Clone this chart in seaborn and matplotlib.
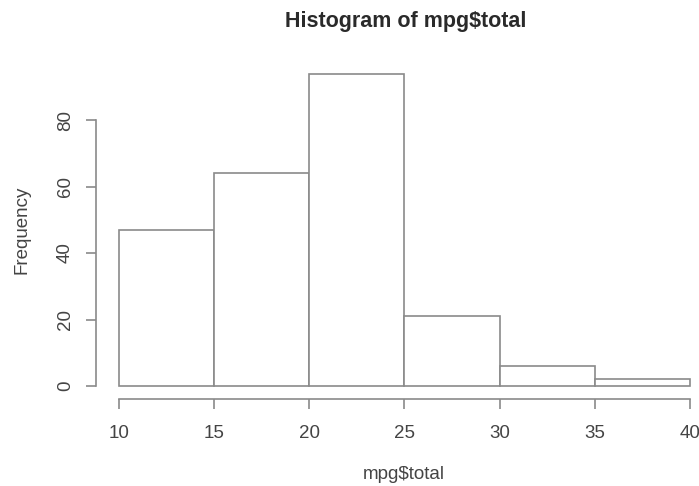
import matplotlib
matplotlib.use('Agg')
import matplotlib.pyplot as plt
import seaborn as sns

# histogram of mpg$total, counts per 5-unit bin
bin_edges = [10, 15, 20, 25, 30, 35, 40]
bin_mids = [12.5, 17.5, 22.5, 27.5, 32.5, 37.5]
counts = [47, 64, 94, 21, 6, 2]
x_ticks = [10, 15, 20, 25, 30, 35, 40]
y_ticks = [0, 20, 40, 60, 80]

sns.set_style('white')
plt.rcParams['font.family'] = ['Liberation Sans', 'DejaVu Sans']

grey = '#8a8a8a'
text_col = '#444444'

fig = plt.figure(figsize=(6.99, 4.86), dpi=100)
ax = fig.add_axes([0.1376, 0.180, 0.882, 0.6944])

sns.histplot(x=bin_mids, weights=counts, bins=bin_edges, ax=ax,
             color='white', edgecolor=grey, linewidth=1.2, alpha=1.0)

# R style axes with 4% padding
ax.set_xlim(8.8, 41.2)
ax.set_ylim(-3.76, 97.76)
ax.set_xticks(x_ticks)
ax.set_yticks(y_ticks)
ax.set_xlabel('')
ax.set_ylabel('')

for s in ['top', 'right']:
    ax.spines[s].set_visible(False)
ax.spines['left'].set_bounds(0, 80)
ax.spines['bottom'].set_bounds(10, 40)
for s in ['left', 'bottom']:
    ax.spines[s].set_color(grey)
    ax.spines[s].set_linewidth(1.2)

ax.tick_params(axis='x', direction='out', length=7.5, width=1.2, color=grey,
               pad=11.5, labelsize=13.5, labelcolor=text_col, bottom=True)
ax.tick_params(axis='y', direction='out', length=7.5, width=1.2, color=grey,
               pad=8.5, labelsize=13.5, labelcolor=text_col, left=True)
for lab in ax.get_yticklabels():
    lab.set_rotation(90)
    lab.set_va('center')

fig.text(0.581, 0.944, r'Histogram of mpg\$total', ha='center', va='baseline',
         fontsize=15.5, fontweight='bold', color='#2a2a2a')
fig.text(0.578, 0.024, r'mpg\$total', ha='center', va='center',
         fontsize=13.5, color=text_col)
fig.text(0.031, 0.527, 'Frequency', ha='center', va='center', rotation=90,
         fontsize=13.5, color=text_col)

fig.savefig('out.png', dpi=100, facecolor='white')
